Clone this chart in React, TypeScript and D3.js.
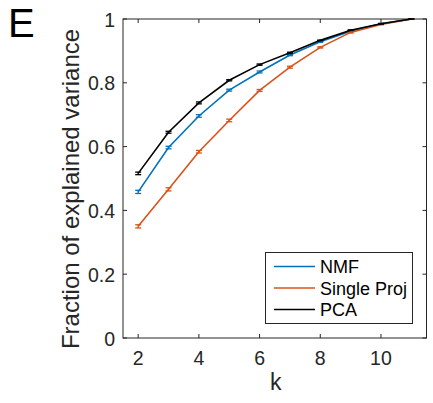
import React from "react";
import * as d3 from "d3";

const kValues = [2, 3, 4, 5, 6, 7, 8, 9, 10, 11];
const nmf = [0.458, 0.597, 0.696, 0.777, 0.834, 0.887, 0.929, 0.962, 0.985, 1.0];
const singleProj = [0.35, 0.466, 0.584, 0.682, 0.776, 0.849, 0.911, 0.958, 0.983, 1.0];
const pca = [0.516, 0.645, 0.737, 0.808, 0.857, 0.894, 0.933, 0.965, 0.985, 1.0];
const nmfErr = [0.005, 0.004, 0.004, 0.003, 0.003, 0.002, 0.002, 0.001, 0.001, 0.0];
const singleErr = [0.005, 0.005, 0.004, 0.004, 0.003, 0.003, 0.002, 0.002, 0.001, 0.0];
const pcaErr = [0.004, 0.003, 0.003, 0.002, 0.002, 0.002, 0.001, 0.001, 0.001, 0.0];
const xTicks = [2, 4, 6, 8, 10];
const yTicks = [0, 0.2, 0.4, 0.6, 0.8, 1];
const seriesNames = ["NMF", "Single Proj", "PCA"];
const seriesColors = ["#0072BD", "#D95319", "#000000"];

const W = 433, H = 403;
const L = 123, R = 426.5, T = 19, B = 338;
const font = "Liberation Sans, Arial, sans-serif";
const axisColor = "#262626";

export default function App() {
  const x = d3.scaleLinear().domain([1.5, 11.5]).range([L, R]);
  const y = d3.scaleLinear().domain([0, 1]).range([B, T]);
  const line = d3.line<number>().x((_, i) => x(kValues[i])).y((v) => y(v));
  const data = [nmf, singleProj, pca];
  const errs = [nmfErr, singleErr, pcaErr];
  const tickLen = 4;
  return (
    <svg width={W} height={H} style={{ position: "absolute", left: 0, top: 0 }}>
      <rect x={0} y={0} width={W} height={H} fill="#fff" />
      <text x={8} y={37} fontFamily={font} fontSize={40} fill="#000">E</text>
      {/* axes box */}
      <rect x={L} y={T} width={R - L} height={B - T} fill="none" stroke={axisColor} strokeWidth={1} />
      {xTicks.map((t) => (
        <g key={"x" + t}>
          <line x1={x(t)} x2={x(t)} y1={B} y2={B - tickLen} stroke={axisColor} />
          <line x1={x(t)} x2={x(t)} y1={T} y2={T + tickLen} stroke={axisColor} />
          <text x={x(t)} y={365} textAnchor="middle" fontFamily={font} fontSize={19.5} fill={axisColor}>{t}</text>
        </g>
      ))}
      {yTicks.map((t) => (
        <g key={"y" + t}>
          <line x1={L} x2={L + tickLen} y1={y(t)} y2={y(t)} stroke={axisColor} />
          <line x1={R} x2={R - tickLen} y1={y(t)} y2={y(t)} stroke={axisColor} />
          <text x={115} y={y(t) + 7.5} textAnchor="end" fontFamily={font} fontSize={19.5} fill={axisColor}>{t === 0 || t === 1 ? String(t) : t.toFixed(1)}</text>
        </g>
      ))}
      <text x={(L + R) / 2 + 1} y={390} textAnchor="middle" fontFamily={font} fontSize={23} fill={axisColor}>k</text>
      <text transform={`translate(78.5, 189) rotate(-90)`} textAnchor="middle" fontFamily={font} fontSize={24} fill={axisColor}>Fraction of explained variance</text>
      {data.map((vals, si) => (
        <g key={"s" + si}>
          <path d={line(vals) || ""} fill="none" stroke={seriesColors[si]} strokeWidth={1.6} />
          {vals.map((v, i) => {
            const e = errs[si][i];
            const cx = x(kValues[i]);
            return (
              <g key={i} stroke={seriesColors[si]} strokeWidth={1.3}>
                <line x1={cx} x2={cx} y1={y(v - e)} y2={y(v + e)} />
                <line x1={cx - 3} x2={cx + 3} y1={y(v - e)} y2={y(v - e)} />
                <line x1={cx - 3} x2={cx + 3} y1={y(v + e)} y2={y(v + e)} />
              </g>
            );
          })}
        </g>
      ))}
      {/* legend */}
      <rect x={265.5} y={252.5} width={147} height={71} fill="#fff" stroke={axisColor} strokeWidth={1} />
      {seriesNames.map((n, i) => {
        const ly = 266.5 + i * 21.5;
        return (
          <g key={n}>
            <line x1={274} x2={315} y1={ly} y2={ly} stroke={seriesColors[i]} strokeWidth={1.6} />
            <text x={320} y={ly + 6.5} fontFamily={font} fontSize={18} fill="#000">{n}</text>
          </g>
        );
      })}
    </svg>
  );
}
